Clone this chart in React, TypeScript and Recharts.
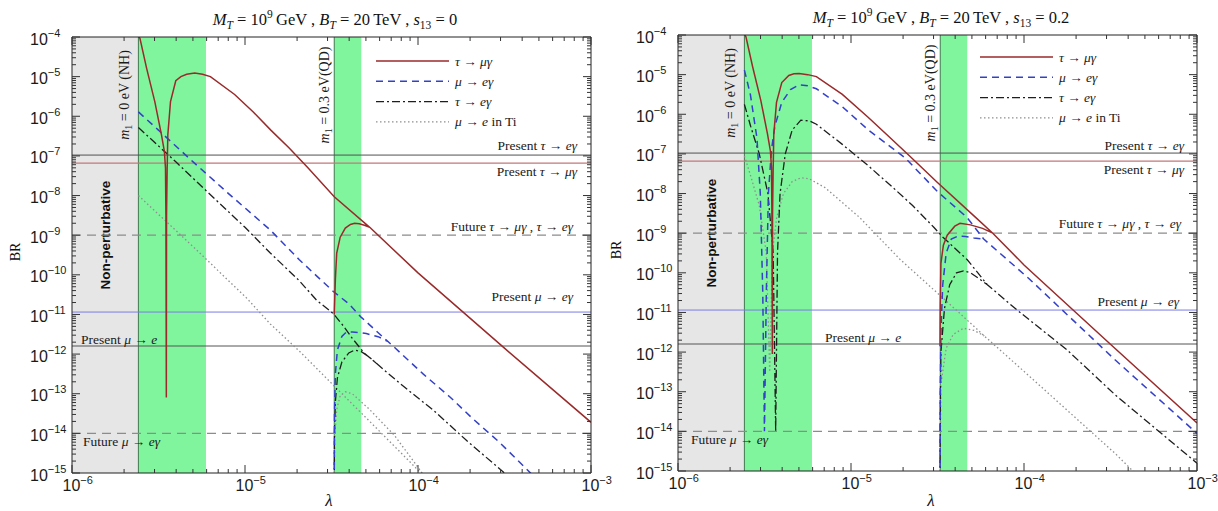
import React from 'react';
import { LineChart, Line, XAxis, YAxis, ReferenceArea, ReferenceLine, Legend } from 'recharts';

type Pair = [number, number];
type Row = { x: number; y: number | null };

// ---------- axes / regions ----------
const X_DOMAIN: [number, number] = [1e-6, 1e-3];
const Y_DOMAIN: [number, number] = [1e-15, 1e-4];
const X_EXPONENTS = [-6, -5, -4, -3];
const Y_EXPONENTS = [-15, -14, -13, -12, -11, -10, -9, -8, -7, -6, -5, -4];
const MINOR_STEPS = [2, 3, 4, 5, 6, 7, 8, 9];
const PANEL_S13 = ['0', '0.2'];

const NONPERT_EDGE = 2.42e-6;
const NH_BAND: Pair = [2.42e-6, 5.95e-6];
const QD_BAND: Pair = [3.28e-5, 4.7e-5];

// ---------- experimental bounds ----------
const PRESENT_TAU_EG = 1.05e-7;
const PRESENT_TAU_MUG = 6.6e-8;
const FUTURE_TAU = 1e-9;
const PRESENT_MU_EG = 1.15e-11;
const PRESENT_MU_E = 1.6e-12;
const FUTURE_MU_EG = 1e-14;

// ---------- series, s13 = 0 ----------
const tauMu0_NH: Pair[] = [
  [2.42e-6, 1.05e-4], [2.47e-6, 9.3e-5], [2.70e-6, 1.62e-5], [3.01e-6, 2.34e-6], [3.29e-6, 3.39e-7],
  [3.42e-6, 1.3e-7], [3.47e-6, 5.0e-8], [3.49e-6, 3.2e-9], [3.51e-6, 8.0e-14], [3.52e-6, 3.2e-9],
  [3.55e-6, 5.0e-8], [3.58e-6, 3.39e-7], [3.71e-6, 2.34e-6], [3.98e-6, 7.9e-6], [4.26e-6, 1.0e-5],
  [4.60e-6, 1.15e-5], [5.12e-6, 1.23e-5], [5.68e-6, 1.15e-5], [6.31e-6, 1.0e-5], [8.71e-6, 3.55e-6],
  [1.12e-5, 1.26e-6], [1.41e-5, 4.47e-7], [1.80e-5, 1.58e-7], [2.31e-5, 5.0e-8], [3.28e-5, 9.3e-9],
  [5.26e-5, 1.58e-9], [1.0e-4, 1.12e-10], [3.16e-4, 1.41e-12], [1.0e-3, 1.9e-14],
];
const tauMu0_QD: Pair[] = [
  [3.28e-5, 1.0e-11], [3.33e-5, 7.9e-11], [3.39e-5, 3.55e-10], [3.55e-5, 8.9e-10], [3.80e-5, 1.51e-9],
  [4.07e-5, 1.86e-9], [4.30e-5, 2.0e-9], [4.58e-5, 1.95e-9], [4.90e-5, 1.78e-9], [5.26e-5, 1.58e-9],
];
const muEg0_NH: Pair[] = [
  [2.42e-6, 1.29e-6], [3.16e-6, 4.47e-7], [5.01e-6, 7.08e-8], [7.94e-6, 1.17e-8], [1.40e-5, 1.35e-9],
  [2.06e-5, 2.4e-10], [3.24e-5, 3.8e-11], [3.96e-5, 1.9e-11], [4.67e-5, 8.7e-12], [5.52e-5, 4.47e-12],
  [6.68e-5, 2.1e-12], [7.19e-5, 1.58e-12], [1.07e-4, 3.16e-13], [1.53e-4, 8.3e-14], [2.06e-4, 2.4e-14],
  [2.95e-4, 6.0e-15], [4.47e-4, 1.0e-15], [5.0e-4, 6.3e-16],
];
const muEg0_QD: Pair[] = [
  [3.28e-5, 6.3e-16], [3.29e-5, 3.2e-14], [3.33e-5, 3.2e-13], [3.42e-5, 1.26e-12], [3.63e-5, 2.8e-12],
  [3.85e-5, 3.6e-12], [4.17e-5, 3.6e-12], [4.58e-5, 3.5e-12], [5.02e-5, 3.3e-12], [5.88e-5, 2.75e-12],
  [6.68e-5, 2.1e-12],
];
const tauEg0_NH: Pair[] = [
  [2.42e-6, 5.2e-7], [3.98e-6, 7.1e-8], [6.31e-6, 1.05e-8], [1.0e-5, 1.58e-9], [1.40e-5, 3.55e-10],
  [2.06e-5, 7.1e-11], [2.59e-5, 2.3e-11], [3.24e-5, 1.05e-11], [3.72e-5, 5.0e-12], [4.17e-5, 2.5e-12],
  [4.90e-5, 1.05e-12], [5.77e-5, 5.75e-13], [7.86e-5, 1.82e-13], [1.23e-4, 3.8e-14], [1.91e-4, 6.6e-15],
  [3.16e-4, 1.0e-15], [3.55e-4, 6.3e-16],
];
const tauEg0_QD: Pair[] = [
  [3.28e-5, 6.3e-16], [3.29e-5, 1.0e-14], [3.33e-5, 6.3e-14], [3.42e-5, 2.5e-13], [3.63e-5, 6.3e-13],
  [3.98e-5, 1.07e-12], [4.30e-5, 1.26e-12], [4.68e-5, 1.17e-12], [5.25e-5, 8.3e-13], [5.77e-5, 5.75e-13],
];
const muETi0_NH: Pair[] = [
  [2.42e-6, 1.0e-8], [5.15e-6, 4.6e-10], [1.03e-5, 2.5e-11], [1.40e-5, 5.75e-12], [2.08e-5, 1.15e-12],
  [3.31e-5, 1.5e-13], [5.26e-5, 2.0e-14], [8.45e-5, 2.5e-15], [1.12e-4, 7.1e-16],
];
const muETi0_QD: Pair[] = [
  [3.28e-5, 6.3e-16], [3.31e-5, 1.0e-14], [3.39e-5, 4.0e-14], [3.55e-5, 8.9e-14], [3.80e-5, 1.12e-13],
  [4.17e-5, 1.0e-13], [5.25e-5, 4.0e-14], [7.31e-5, 8.9e-15], [1.12e-4, 7.1e-16],
];

// ---------- series, s13 = 0.2 ----------
const tauMu2_NH: Pair[] = [
  [2.42e-6, 1.05e-4], [2.47e-6, 9.0e-5], [2.70e-6, 1.58e-5], [3.01e-6, 2.24e-6], [3.29e-6, 3.2e-7],
  [3.42e-6, 1.2e-7], [3.47e-6, 4.5e-8], [3.49e-6, 3.0e-9], [3.51e-6, 9.0e-13], [3.52e-6, 3.0e-9],
  [3.55e-6, 4.5e-8], [3.58e-6, 3.2e-7], [3.71e-6, 2.0e-6], [3.98e-6, 6.3e-6], [4.37e-6, 9.5e-6],
  [4.68e-6, 1.05e-5], [5.01e-6, 1.07e-5], [5.62e-6, 1.0e-5], [6.31e-6, 8.9e-6], [8.91e-6, 3.16e-6],
  [1.26e-5, 8.3e-7], [1.66e-5, 2.7e-7], [2.19e-5, 8.7e-8], [3.16e-5, 1.9e-8], [5.25e-5, 2.5e-9],
  [6.6e-5, 1.0e-9], [1.0e-4, 1.58e-10], [3.16e-4, 1.58e-12], [1.0e-3, 1.62e-14],
];
const tauMu2_QD: Pair[] = [
  [3.27e-5, 1.4e-12], [3.28e-5, 1.6e-11], [3.31e-5, 1.74e-10], [3.42e-5, 5.0e-10], [3.60e-5, 8.9e-10],
  [3.98e-5, 1.5e-9], [4.27e-5, 1.78e-9], [4.90e-5, 1.62e-9], [5.76e-5, 1.32e-9], [6.6e-5, 1.0e-9],
];
const muEg2_NH: Pair[] = [
  [2.42e-6, 1.3e-5], [2.62e-6, 3.16e-6], [2.86e-6, 2.5e-7], [2.99e-6, 1.0e-8], [3.09e-6, 3.16e-11],
  [3.16e-6, 1.0e-14], [3.24e-6, 3.16e-11], [3.33e-6, 1.0e-8], [3.47e-6, 1.26e-7], [3.63e-6, 5.0e-7],
  [3.98e-6, 2.0e-6], [4.47e-6, 4.2e-6], [5.01e-6, 5.5e-6], [5.62e-6, 5.25e-6], [6.31e-6, 4.4e-6],
  [8.91e-6, 1.55e-6], [1.26e-5, 4.0e-7], [2.06e-5, 7.9e-8], [3.16e-5, 1.12e-8], [4.68e-5, 2.5e-9],
  [5.85e-5, 7.1e-10], [1.07e-4, 7.1e-11], [3.37e-4, 6.3e-13], [1.0e-3, 8.9e-15],
];
const muEg2_QD: Pair[] = [
  [3.27e-5, 6.3e-16], [3.28e-5, 1.0e-13], [3.31e-5, 3.16e-12], [3.39e-5, 5.0e-11], [3.55e-5, 3.16e-10],
  [3.80e-5, 7.1e-10], [4.17e-5, 8.5e-10], [4.58e-5, 8.3e-10], [5.13e-5, 7.6e-10], [5.85e-5, 7.1e-10],
];
const tauEg2_NH: Pair[] = [
  [2.42e-6, 1.78e-6], [2.63e-6, 5.0e-7], [2.95e-6, 1.0e-7], [3.31e-6, 1.0e-8], [3.55e-6, 3.16e-10],
  [3.67e-6, 1.0e-14], [3.76e-6, 3.16e-10], [3.89e-6, 1.0e-8], [4.17e-6, 1.0e-7], [4.57e-6, 4.0e-7],
  [5.13e-6, 7.1e-7], [5.75e-6, 6.8e-7], [6.31e-6, 5.6e-7], [8.91e-6, 1.74e-7], [1.26e-5, 5.0e-8],
  [1.69e-5, 1.62e-8], [2.27e-5, 5.0e-9], [3.01e-5, 1.41e-9], [3.40e-5, 7.9e-10], [4.70e-5, 2.14e-10],
  [6.14e-5, 5.0e-11], [9.12e-5, 1.15e-11], [1.78e-4, 1.12e-12], [3.37e-4, 8.3e-14], [1.0e-3, 1.58e-15],
];
const tauEg2_QD: Pair[] = [
  [3.27e-5, 6.3e-16], [3.28e-5, 3.2e-14], [3.31e-5, 1.0e-12], [3.47e-5, 1.26e-11], [3.72e-5, 5.0e-11],
  [4.07e-5, 1.0e-10], [4.47e-5, 1.12e-10], [4.90e-5, 1.0e-10], [5.50e-5, 7.1e-11], [6.14e-5, 5.0e-11],
];
const muETi2_NH: Pair[] = [
  [2.42e-6, 8.9e-8], [2.63e-6, 2.8e-8], [2.95e-6, 5.0e-9], [3.24e-6, 3.16e-10], [3.39e-6, 3.16e-13],
  [3.51e-6, 3.16e-10], [3.72e-6, 2.5e-9], [4.07e-6, 1.0e-8], [4.57e-6, 2.0e-8], [5.13e-6, 2.5e-8],
  [5.75e-6, 2.34e-8], [7.08e-6, 1.41e-8], [1.12e-5, 2.5e-9], [1.93e-5, 2.14e-10], [3.31e-5, 2.57e-11],
  [4.47e-5, 7.8e-12], [5.89e-5, 2.57e-12], [1.07e-4, 2.5e-13], [3.37e-4, 2.75e-15], [4.5e-4, 7.9e-16],
];
const muETi2_QD: Pair[] = [
  [3.27e-5, 6.3e-16], [3.29e-5, 1.0e-14], [3.31e-5, 1.58e-13], [3.55e-5, 1.26e-12], [3.90e-5, 2.8e-12],
  [4.47e-5, 4.0e-12], [5.13e-5, 3.55e-12], [5.89e-5, 2.57e-12],
];

// ---------- helpers ----------
const SANS = "'Liberation Sans', Arial, Helvetica, sans-serif";
const SERIF = "'Liberation Serif', 'DejaVu Serif', 'Times New Roman', serif";
const TICK_COLOR = '#333';
const LABEL_COLOR = '#1a1a1a';
const FRAME = '#222';
const GREY = '#e6e6e6';
const GREEN = '#80f59e';
const EDGE = '#3f7a4e';
const MAJOR_LEN = 8;
const MINOR_LEN = 4;

const buildTicks = (exps: number[]) =>
  exps.flatMap((e, i) => [Math.pow(10, e), ...(i < exps.length - 1 ? MINOR_STEPS.map((m) => m * Math.pow(10, e)) : [])]);
const X_TICKS = buildTicks(X_EXPONENTS);
const Y_TICKS = buildTicks(Y_EXPONENTS);

const expOf = (v: number) => Math.round(Math.log10(v));
const isMajor = (v: number) => Math.abs(Math.log10(v) - expOf(v)) < 1e-6;
const fmtExp = (e: number) => (e < 0 ? '\u2212' + Math.abs(e) : String(e));

const rows = (...branches: Pair[][]): Row[] =>
  branches.flatMap((b, i) => [
    ...(i > 0 ? [{ x: b[0][0], y: null } as Row] : []),
    ...b.map(([x, y]) => ({ x, y } as Row)),
  ]);

const I = ({ children }: { children: React.ReactNode }) => <tspan fontStyle="italic">{children}</tspan>;

const BottomTick = (p: any) => {
  const v = p.payload?.value as number;
  const major = isMajor(v);
  return (
    <g>
      <line x1={p.x} x2={p.x} y1={p.y} y2={p.y - (major ? MAJOR_LEN : MINOR_LEN)} stroke={TICK_COLOR} />
      {major ? (
        <text x={p.x - 9.5} y={p.y + 17.5} textAnchor="start" fontFamily={SANS} fontSize={16} fill={LABEL_COLOR}>
          10<tspan fontSize={11} dy={-7}>{fmtExp(expOf(v))}</tspan>
        </text>
      ) : null}
    </g>
  );
};
const TopTick = (p: any) => {
  const major = isMajor(p.payload?.value);
  return <line x1={p.x} x2={p.x} y1={p.y} y2={p.y + (major ? MAJOR_LEN : MINOR_LEN)} stroke={TICK_COLOR} />;
};
const LeftTick = (p: any) => {
  const v = p.payload?.value as number;
  const major = isMajor(v);
  return (
    <g>
      <line x1={p.x} x2={p.x + (major ? MAJOR_LEN : MINOR_LEN)} y1={p.y} y2={p.y} stroke={TICK_COLOR} />
      {major ? (
        <text x={p.x - 42} y={p.y + 7.5} textAnchor="start" fontFamily={SANS} fontSize={16} fill={LABEL_COLOR}>
          10<tspan fontSize={11} dy={-8}>{fmtExp(expOf(v))}</tspan>
        </text>
      ) : null}
    </g>
  );
};
const RightTick = (p: any) => {
  const major = isMajor(p.payload?.value);
  return <line x1={p.x} x2={p.x - (major ? MAJOR_LEN : MINOR_LEN)} y1={p.y} y2={p.y} stroke={TICK_COLOR} />;
};

// ---------- series styling ----------
const SERIES_NAMES = ['\u03C4 \u2192 \u03BC\u03B3', '\u03BC \u2192 e\u03B3', '\u03C4 \u2192 e\u03B3', '\u03BC \u2192 e in Ti'];
const SERIES_STYLE = [
  { stroke: '#9a2a2a', strokeWidth: 1.5, dash: undefined as string | undefined },
  { stroke: '#3340c8', strokeWidth: 1.5, dash: '7 5' },
  { stroke: '#1e1e1e', strokeWidth: 1.3, dash: '8 3 2 3' },
  { stroke: '#8f8f8f', strokeWidth: 1.3, dash: '1.5 2.5' },
];
const SERIES_LABELS: React.ReactNode[] = [
  <><I>τ</I> → <I>μγ</I></>,
  <><I>μ</I> → <I>eγ</I></>,
  <><I>τ</I> → <I>eγ</I></>,
  <><I>μ</I> → <I>e</I> in Ti</>,
];

type Annot = { align: 'start' | 'end'; dx: number; dy: number };
type PanelCfg = {
  width: number;
  margin: { top: number; right: number; bottom: number; left: number };
  yAxisWidth: number;
  xAxisHeight: number;
  series: Row[][]; // order: tauMu, muEg, tauEg, muETi
  legend: { left: number; top: number };
  annots: Annot[]; // tauEg, tauMug, futureTau, muEg, muE, futureMuEg
};

const LEFT_CFG: PanelCfg = {
  width: 640,
  margin: { top: 37, right: 49, bottom: 0, left: 0 },
  yAxisWidth: 72,
  xAxisHeight: 38,
  series: [rows(tauMu0_NH, tauMu0_QD), rows(muEg0_NH, muEg0_QD), rows(tauEg0_NH, tauEg0_QD), rows(muETi0_NH, muETi0_QD)],
  legend: { left: 374, top: 50 },
  annots: [
    { align: 'end', dx: 14, dy: -5 },
    { align: 'end', dx: 14, dy: 13 },
    { align: 'end', dx: 18, dy: -4.5 },
    { align: 'end', dx: 18, dy: -11 },
    { align: 'start', dx: 9, dy: -2 },
    { align: 'start', dx: 11, dy: 13 },
  ],
};
const RIGHT_CFG: PanelCfg = {
  width: 609,
  margin: { top: 35, right: 21, bottom: 0, left: 0 },
  yAxisWidth: 69,
  xAxisHeight: 40,
  series: [rows(tauMu2_NH, tauMu2_QD), rows(muEg2_NH, muEg2_QD), rows(tauEg2_NH, tauEg2_QD), rows(muETi2_NH, muETi2_QD)],
  legend: { left: 369, top: 46 },
  annots: [
    { align: 'end', dx: 13, dy: -3.5 },
    { align: 'end', dx: 13, dy: 13 },
    { align: 'end', dx: 16, dy: -5 },
    { align: 'end', dx: 18, dy: -4.5 },
    { align: 'start', dx: 147, dy: -2.5 },
    { align: 'start', dx: 13, dy: 13 },
  ],
};

const BOUNDS = [
  { y: PRESENT_TAU_EG, stroke: '#505050', width: 1, dash: undefined as string | undefined, text: <>Present <I>τ</I> → <I>eγ</I></> },
  { y: PRESENT_TAU_MUG, stroke: '#c07878', width: 1.2, dash: undefined, text: <>Present <I>τ</I> → <I>μγ</I></> },
  { y: FUTURE_TAU, stroke: '#8c8c8c', width: 1.3, dash: '9 6', text: <>Future <I>τ</I> → <I>μγ</I> , <I>τ</I> → <I>eγ</I></> },
  { y: PRESENT_MU_EG, stroke: '#7b7be6', width: 1, dash: undefined, text: <>Present <I>μ</I> → <I>eγ</I></> },
  { y: PRESENT_MU_E, stroke: '#555555', width: 1, dash: undefined, text: <>Present <I>μ</I> → <I>e</I></> },
  { y: FUTURE_MU_EG, stroke: '#8c8c8c', width: 1.3, dash: '9 6', text: <>Future <I>μ</I> → <I>eγ</I></> },
];

const hLabel = (content: React.ReactNode, a: Annot) => (props: any) => {
  const vb = props.viewBox || { x: 0, y: 0, width: 0 };
  const x = a.align === 'end' ? vb.x + vb.width - a.dx : vb.x + a.dx;
  return (
    <text x={x} y={vb.y + a.dy} textAnchor={a.align} fontFamily={SERIF} fontSize={13.5} fill="#1a1a1a">
      {content}
    </text>
  );
};

const vLabel = (content: React.ReactNode, dx: number) => (props: any) => {
  const vb = props.viewBox || { x: 0, y: 0 };
  const x = vb.x + dx;
  const y = vb.y + 58;
  return (
    <text transform={`translate(${x},${y}) rotate(-90)`} textAnchor="middle" fontFamily={SERIF} fontSize={14} fill="#1a1a1a">
      {content}
    </text>
  );
};

const nonPertLabel = (props: any) => {
  const vb = props.viewBox || { x: 0, y: 0, width: 0 };
  const x = vb.x + vb.width / 2 + 5;
  const y = vb.y + 198;
  return (
    <text transform={`translate(${x},${y}) rotate(-90)`} textAnchor="middle" fontFamily={SANS} fontWeight="bold" fontSize={13.5} fill="#111">
      Non-perturbative
    </text>
  );
};

const legendContent = (props: any) => {
  const payload: any[] = props.payload || [];
  return (
    <svg width={170} height={86} style={{ display: 'block', overflow: 'visible' }}>
      {SERIES_NAMES.map((name, i) => {
        const p = payload.find((q) => q.value === name);
        const st = SERIES_STYLE[i];
        const cy = 11 + i * 20.3;
        return (
          <g key={name}>
            <line x1={2} x2={75} y1={cy} y2={cy} stroke={p?.color || st.stroke} strokeWidth={st.strokeWidth} strokeDasharray={st.dash} />
            <text x={81} y={cy + 4.5} fontFamily={SERIF} fontSize={13.5} fill="#1a1a1a">
              {SERIES_LABELS[i]}
            </text>
          </g>
        );
      })}
    </svg>
  );
};

const NH_TEXT = <><I>m</I><tspan fontSize={10} dy={3}>1</tspan><tspan dy={-3}> = 0 eV (NH)</tspan></>;
const QD_TEXT = <><I>m</I><tspan fontSize={10} dy={3}>1</tspan><tspan dy={-3}> = 0.3 eV(QD)</tspan></>;

function Panel({ cfg }: { cfg: PanelCfg }) {
  const ax = { xAxisId: 'b', yAxisId: 'l' } as const;
  const drawOrder = [3, 2, 1, 0];
  return (
    <LineChart width={cfg.width} height={511} margin={cfg.margin}>
      <ReferenceArea {...ax} x1={X_DOMAIN[0]} x2={NONPERT_EDGE} fill={GREY} fillOpacity={1} stroke="none" ifOverflow="hidden" label={nonPertLabel} />
      <ReferenceArea {...ax} x1={NH_BAND[0]} x2={NH_BAND[1]} fill={GREEN} fillOpacity={1} stroke="none" ifOverflow="hidden" />
      <ReferenceArea {...ax} x1={QD_BAND[0]} x2={QD_BAND[1]} fill={GREEN} fillOpacity={1} stroke="none" ifOverflow="hidden" />
      <ReferenceLine {...ax} x={NH_BAND[0]} stroke={EDGE} strokeWidth={1} label={vLabel(NH_TEXT, -9)} />
      <ReferenceLine {...ax} x={QD_BAND[0]} stroke={EDGE} strokeWidth={1} label={vLabel(QD_TEXT, -5)} />
      {BOUNDS.map((b, i) => (
        <ReferenceLine
          key={i}
          {...ax}
          y={b.y}
          stroke={b.stroke}
          strokeWidth={b.width}
          strokeDasharray={b.dash}
          label={hLabel(b.text, cfg.annots[i])}
        />
      ))}
      {drawOrder.map((i) => (
        <Line
          key={SERIES_NAMES[i]}
          {...ax}
          name={SERIES_NAMES[i]}
          data={cfg.series[i]}
          dataKey="y"
          type="linear"
          stroke={SERIES_STYLE[i].stroke}
          strokeWidth={SERIES_STYLE[i].strokeWidth}
          strokeDasharray={SERIES_STYLE[i].dash}
          dot={false}
          activeDot={false}
          connectNulls={false}
          isAnimationActive={false}
        />
      ))}
      <Legend
        layout="vertical"
        align="center"
        verticalAlign="middle"
        wrapperStyle={{ left: cfg.legend.left, top: cfg.legend.top, width: 170, height: 86 }}
        content={legendContent}
      />
      <XAxis
        xAxisId="b"
        type="number"
        dataKey="x"
        scale="log"
        domain={X_DOMAIN}
        allowDataOverflow
        ticks={X_TICKS}
        interval={0}
        height={cfg.xAxisHeight}
        tickSize={0}
        tickMargin={0}
        tickLine={false}
        axisLine={{ stroke: FRAME }}
        tick={BottomTick}
      />
      <XAxis
        xAxisId="t"
        orientation="top"
        mirror
        type="number"
        dataKey="x"
        scale="log"
        domain={X_DOMAIN}
        allowDataOverflow
        ticks={X_TICKS}
        interval={0}
        height={1}
        tickSize={0}
        tickMargin={0}
        tickLine={false}
        axisLine={{ stroke: FRAME }}
        tick={TopTick}
      />
      <YAxis
        yAxisId="l"
        type="number"
        scale="log"
        domain={Y_DOMAIN}
        allowDataOverflow
        ticks={Y_TICKS}
        interval={0}
        width={cfg.yAxisWidth}
        tickSize={0}
        tickMargin={0}
        tickLine={false}
        axisLine={{ stroke: FRAME }}
        tick={LeftTick}
      />
      <YAxis
        yAxisId="r"
        orientation="right"
        mirror
        type="number"
        scale="log"
        domain={Y_DOMAIN}
        allowDataOverflow
        ticks={Y_TICKS}
        interval={0}
        width={1}
        tickSize={0}
        tickMargin={0}
        tickLine={false}
        axisLine={{ stroke: FRAME }}
        tick={RightTick}
      />
    </LineChart>
  );
}

const Title = ({ x, y, s13 }: { x: number; y: number; s13: string }) => (
  <text x={x} y={y} textAnchor="middle" fontFamily={SERIF} fontSize={16.5} fill="#111">
    <tspan fontStyle="italic">M</tspan>
    <tspan fontStyle="italic" fontSize={11.5} dy={3.5}>T</tspan>
    <tspan dy={-3.5}>{' = 10'}</tspan>
    <tspan fontSize={11.5} dy={-7}>9</tspan>
    <tspan dy={7}>{'\u2009GeV , '}</tspan>
    <tspan fontStyle="italic">B</tspan>
    <tspan fontStyle="italic" fontSize={11.5} dy={3.5}>T</tspan>
    <tspan dy={-3.5}>{' = 20\u2009TeV , '}</tspan>
    <tspan fontStyle="italic">s</tspan>
    <tspan fontSize={11.5} dy={3.5}>13</tspan>
    <tspan dy={-3.5}>{' = ' + s13}</tspan>
  </text>
);

export default function App() {
  return (
    <div style={{ position: 'absolute', left: 0, top: 0, width: 1218, height: 511, background: '#fff', overflow: 'hidden' }}>
      <div style={{ position: 'absolute', left: 0, top: 0 }}>
        <Panel cfg={LEFT_CFG} />
      </div>
      <div style={{ position: 'absolute', left: 609, top: 0 }}>
        <Panel cfg={RIGHT_CFG} />
      </div>
      <svg width={1218} height={511} style={{ position: 'absolute', left: 0, top: 0, pointerEvents: 'none' }}>
        <Title x={335} y={25} s13={PANEL_S13[0]} />
        <Title x={941} y={23} s13={PANEL_S13[1]} />
        <text transform="translate(20,252) rotate(-90)" textAnchor="middle" fontFamily={SERIF} fontSize={14} fill="#111">BR</text>
        <text transform="translate(621,250) rotate(-90)" textAnchor="middle" fontFamily={SERIF} fontSize={14} fill="#111">BR</text>
        <text x={329} y={506} textAnchor="middle" fontFamily={SERIF} fontStyle="italic" fontSize={17} fill="#111">λ</text>
        <text x={931} y={506} textAnchor="middle" fontFamily={SERIF} fontStyle="italic" fontSize={17} fill="#111">λ</text>
      </svg>
    </div>
  );
}
